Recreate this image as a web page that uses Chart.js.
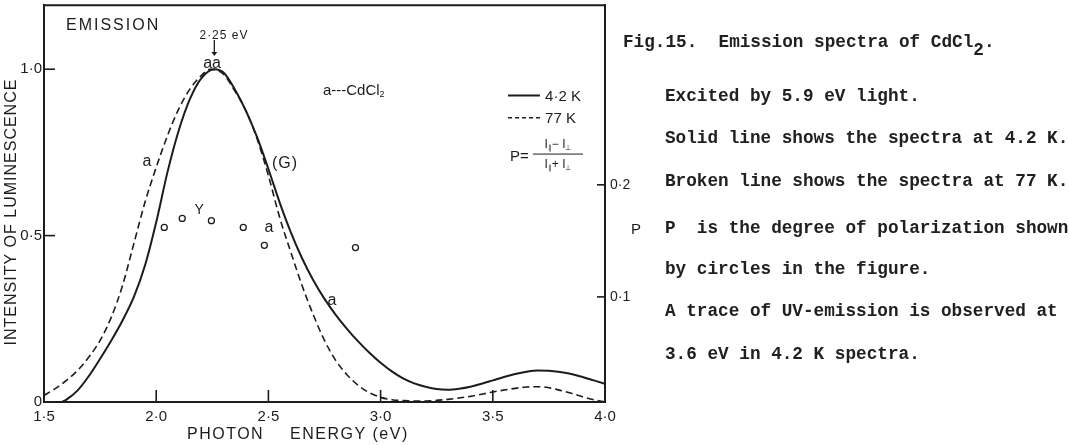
<!DOCTYPE html>
<html>
<head>
<meta charset="utf-8">
<script src="https://cdn.jsdelivr.net/npm/chart.js@4.4.1/dist/chart.umd.min.js"></script>
<style>
html,body{margin:0;padding:0;background:#fff;}
#wrap{position:relative;width:1069px;height:445px;overflow:hidden;background:#fff;}
#c{position:absolute;left:0;top:0;}
.cap{position:absolute;font-family:"Liberation Mono",monospace;font-weight:bold;font-size:17.7px;line-height:17.7px;color:#202020;white-space:pre;}
.cap sub{font-size:17.7px;vertical-align:baseline;position:relative;top:8px;}
</style>
</head>
<body>
<div id="wrap">
<canvas id="c" width="1069" height="445"></canvas>
<div class="cap" style="left:623px;top:34.4px">Fig.15.  Emission spectra of CdCl<sub>2</sub>.</div>
<div class="cap" style="left:665px;top:88.4px">Excited by 5.9 eV light.</div>
<div class="cap" style="left:665px;top:130.4px">Solid line shows the spectra at 4.2 K.</div>
<div class="cap" style="left:665px;top:173.4px">Broken line shows the spectra at 77 K.</div>
<div class="cap" style="left:665px;top:220.4px">P  is the degree of polarization shown</div>
<div class="cap" style="left:665px;top:261.4px">by circles in the figure.</div>
<div class="cap" style="left:665px;top:303.4px">A trace of UV-emission is observed at</div>
<div class="cap" style="left:665px;top:346.4px">3.6 eV in 4.2 K spectra.</div>
</div>
<script>
// ---------- data ----------
const energyTicks = [1.5, 2.0, 2.5, 3.0, 3.5, 4.0];
const energyTickLabels = ['1·5', '2·0', '2·5', '3·0', '3·5', '4·0'];
const intensityTicks = [0, 0.5, 1.0];
const intensityTickLabels = ['0', '0·5', '1·0'];
const pTicks = [0.1, 0.2];
const pTickLabels = ['0·1', '0·2'];

// 4.2 K (solid)
const energy42K = [1.58, 1.60, 1.65, 1.70, 1.75, 1.80, 1.85, 1.90, 1.95, 2.00, 2.05, 2.10, 2.15, 2.20, 2.26, 2.30, 2.35, 2.40, 2.45, 2.50, 2.55, 2.60, 2.65, 2.70, 2.75, 2.80, 2.85, 2.90, 2.95, 3.00, 3.05, 3.10, 3.15, 3.20, 3.25, 3.30, 3.35, 3.40, 3.45, 3.50, 3.55, 3.60, 3.65, 3.70, 3.75, 3.80, 3.85, 3.90, 3.95, 4.00];
const intensity42K = [0, 0.007, 0.035, 0.078, 0.13, 0.185, 0.245, 0.315, 0.41, 0.54, 0.69, 0.815, 0.91, 0.972, 1.0, 0.99, 0.94, 0.875, 0.795, 0.70, 0.60, 0.51, 0.432, 0.366, 0.31, 0.262, 0.22, 0.182, 0.148, 0.118, 0.092, 0.071, 0.056, 0.046, 0.039, 0.037, 0.040, 0.046, 0.055, 0.065, 0.075, 0.084, 0.091, 0.095, 0.094, 0.090, 0.084, 0.075, 0.065, 0.055];

// 77 K (broken)
const energy77K = [1.50, 1.55, 1.60, 1.65, 1.70, 1.75, 1.80, 1.85, 1.90, 1.95, 2.00, 2.05, 2.10, 2.15, 2.20, 2.24, 2.30, 2.35, 2.40, 2.45, 2.50, 2.55, 2.60, 2.65, 2.70, 2.75, 2.80, 2.85, 2.90, 2.95, 3.00, 3.05, 3.10, 3.20, 3.30, 3.40, 3.50, 3.60, 3.65, 3.70, 3.75, 3.80, 3.85, 3.90, 3.95, 4.00];
const intensity77K = [0.02, 0.04, 0.065, 0.095, 0.135, 0.185, 0.255, 0.35, 0.475, 0.60, 0.705, 0.80, 0.88, 0.94, 0.98, 1.0, 0.985, 0.935, 0.875, 0.79, 0.68, 0.555, 0.45, 0.35, 0.262, 0.185, 0.125, 0.082, 0.05, 0.028, 0.014, 0.007, 0.004, 0.003, 0.008, 0.017, 0.030, 0.041, 0.045, 0.046, 0.043, 0.035, 0.026, 0.016, 0.007, 0.0];

// degree of polarization (circles, right axis)
const energyPol = [2.036, 2.116, 2.246, 2.388, 2.482, 2.888];
const polarization = [0.162, 0.170, 0.168, 0.162, 0.146, 0.144];

// text annotations at data positions
const curveLabels = [
  {text: 'a', x: 1.959, y: 0.721, size: 16},
  {text: 'aa', x: 2.249, y: 1.016, size: 16},
  {text: '(G)', x: 2.574, y: 0.715, size: 16},
  {text: 'Y', x: 2.191, y: 0.575, size: 14},
  {text: 'a', x: 2.503, y: 0.525, size: 16},
  {text: 'a', x: 2.783, y: 0.304, size: 16}
];

// ---------- chart ----------
const INK = '#1c1c1c';
const FONT = '"Liberation Sans", Arial, sans-serif';

function zip(xs, ys) { return xs.map((x, i) => ({x: x, y: ys[i]})); }

function drawParts(ctx, parts, x, y, align, size) {
  const subSize = Math.round(size * 0.6);
  let w = 0;
  parts.forEach(p => {
    ctx.font = (p.sub ? subSize : size) + 'px ' + FONT;
    p.w = ctx.measureText(p.t).width;
    w += p.w;
  });
  let cx = align === 'center' ? x - w / 2 : x;
  ctx.textAlign = 'left';
  ctx.textBaseline = 'middle';
  parts.forEach(p => {
    ctx.font = (p.sub ? subSize : size) + 'px ' + FONT;
    ctx.fillText(p.t, cx, y + (p.sub ? size * 0.3 : 0));
    cx += p.w;
  });
}

const annotate = {
  id: 'annotate',
  afterDatasetsDraw(chart) {
    const ctx = chart.ctx;
    const a = chart.chartArea;
    const xs = chart.scales.x, ys = chart.scales.y, ps = chart.scales.p;
    const X = v => xs.getPixelForValue(v);
    const Y = v => ys.getPixelForValue(v);
    const P = v => ps.getPixelForValue(v);
    ctx.save();
    ctx.strokeStyle = INK;
    ctx.fillStyle = INK;
    ctx.lineCap = 'butt';
    const line = (x1, y1, x2, y2, w) => { ctx.lineWidth = w; ctx.beginPath(); ctx.moveTo(x1, y1); ctx.lineTo(x2, y2); ctx.stroke(); };
    // top frame
    line(a.left - 1, a.top, a.right + 1, a.top, 2);
    // inward tick marks
    energyTicks.slice(1, -1).forEach(v => line(X(v), a.bottom, X(v), a.bottom - 12, 1.6));
    intensityTicks.filter(v => v > 0).forEach(v => line(a.left, Y(v), a.left + 11, Y(v), 1.6));
    pTicks.forEach(v => line(a.right, P(v), a.right - 8, P(v), 1.6));

    // axis titles
    ctx.textBaseline = 'middle';
    ctx.textAlign = 'left';
    ctx.font = '16px ' + FONT;
    ctx.letterSpacing = '1.5px';
    ctx.fillText('PHOTON', 187, 435);
    ctx.fillText('ENERGY (eV)', 290, 435);
    ctx.save();
    ctx.translate(12, 212);
    ctx.rotate(-Math.PI / 2);
    ctx.textAlign = 'center';
    ctx.letterSpacing = '1px';
    ctx.fillText('INTENSITY OF LUMINESCENCE', 0, 0);
    ctx.restore();
    ctx.letterSpacing = '0px';
    ctx.font = '15px ' + FONT;
    ctx.textAlign = 'center';
    ctx.fillText('P', 636, 230);

    // EMISSION
    ctx.textAlign = 'left';
    ctx.font = '16px ' + FONT;
    ctx.letterSpacing = '2px';
    ctx.fillText('EMISSION', X(1.598), Y(1.130));
    ctx.letterSpacing = '0px';

    // peak marker
    ctx.font = '12px ' + FONT;
    ctx.letterSpacing = '1px';
    ctx.textAlign = 'center';
    ctx.fillText('2·25 eV', X(2.302), Y(1.100));
    ctx.letterSpacing = '0px';
    const ax = X(2.259);
    line(ax, Y(1.088), ax, Y(1.050), 1.3);
    ctx.beginPath();
    ctx.moveTo(ax - 3, Y(1.052));
    ctx.lineTo(ax + 3, Y(1.052));
    ctx.lineTo(ax, Y(1.040));
    ctx.closePath();
    ctx.fill();

    // curve labels
    curveLabels.forEach(l => {
      ctx.font = l.size + 'px ' + FONT;
      ctx.textAlign = 'center';
      ctx.letterSpacing = l.text === '(G)' ? '1px' : '0px';
      ctx.fillText(l.text, X(l.x), Y(l.y));
    });
    ctx.letterSpacing = '0px';

    // material label
    drawParts(ctx, [{t: 'a---CdCl'}, {t: '2', sub: true}], X(2.743), Y(0.936), 'left', 15);

    // legend
    const lx1 = X(3.568), lx2 = X(3.710);
    line(lx1, Y(0.921), lx2, Y(0.921), 2);
    ctx.setLineDash([4, 3]);
    line(lx1, Y(0.854), lx2, Y(0.854), 1.5);
    ctx.setLineDash([]);
    ctx.font = '15px ' + FONT;
    ctx.textAlign = 'left';
    ctx.fillText('4·2 K', X(3.733), Y(0.917));
    ctx.fillText('77 K', X(3.733), Y(0.851));

    // polarization formula
    ctx.font = '15px ' + FONT;
    ctx.fillText('P=', X(3.577), Y(0.736));
    line(X(3.679), Y(0.745), X(3.902), Y(0.745), 1);
    const mid = (X(3.679) + X(3.902)) / 2;
    drawParts(ctx, [{t: 'I'}, {t: '∥', sub: true}, {t: '− I'}, {t: '⊥', sub: true}], mid, Y(0.774), 'center', 12);
    drawParts(ctx, [{t: 'I'}, {t: '∥', sub: true}, {t: '+ I'}, {t: '⊥', sub: true}], mid, Y(0.714), 'center', 12);
    ctx.restore();
  }
};

function fixedAxis(size, horizontal) {
  return s => {
    if (horizontal) { s.height = size; } else { s.width = size; }
    s.paddingLeft = 0; s.paddingRight = 0; s.paddingTop = 0; s.paddingBottom = 0;
  };
}

new Chart(document.getElementById('c'), {
  type: 'line',
  data: {
    datasets: [
      {label: '4·2 K', data: zip(energy42K, intensity42K), yAxisID: 'y', borderColor: INK, borderWidth: 2, pointRadius: 0, fill: false, cubicInterpolationMode: 'monotone'},
      {label: '77 K', data: zip(energy77K, intensity77K), yAxisID: 'y', borderColor: INK, borderWidth: 1.6, borderDash: [7, 4], pointRadius: 0, fill: false, cubicInterpolationMode: 'monotone'},
      {label: 'P', type: 'scatter', data: zip(energyPol, polarization), yAxisID: 'p', showLine: false, pointRadius: 3, pointBorderWidth: 1.3, pointBorderColor: INK, pointBackgroundColor: '#fff'}
    ]
  },
  options: {
    responsive: false,
    devicePixelRatio: 1,
    animation: false,
    layout: {padding: {top: 2, left: 0, right: 0, bottom: 0}},
    plugins: {legend: {display: false}, tooltip: {enabled: false}, title: {display: false}},
    scales: {
      x: {
        type: 'linear', position: 'bottom', min: 1.5, max: 4.0,
        afterBuildTicks: s => { s.ticks = energyTicks.map(v => ({value: v})); },
        afterFit: fixedAxis(43, true),
        grid: {display: false, drawTicks: false},
        border: {display: true, color: INK, width: 2},
        ticks: {callback: (v, i) => energyTickLabels[i], color: INK, font: {family: FONT, size: 15}, padding: 6, maxRotation: 0, autoSkip: false}
      },
      y: {
        type: 'linear', position: 'left', min: 0, max: 1.192,
        afterBuildTicks: s => { s.ticks = intensityTicks.map(v => ({value: v})); },
        afterFit: fixedAxis(44, false),
        grid: {display: false, drawTicks: false},
        border: {display: true, color: INK, width: 2},
        ticks: {callback: (v, i) => intensityTickLabels[i], color: INK, font: {family: FONT, size: 15}, padding: 2, autoSkip: false}
      },
      p: {
        type: 'linear', position: 'right', min: 0.0062, max: 0.3602,
        afterBuildTicks: s => { s.ticks = pTicks.map(v => ({value: v})); },
        afterFit: fixedAxis(464, false),
        grid: {display: false, drawTicks: false},
        border: {display: true, color: INK, width: 2},
        ticks: {callback: (v, i) => pTickLabels[i], color: INK, font: {family: FONT, size: 14}, padding: 5, autoSkip: false}
      }
    }
  },
  plugins: [annotate]
});
</script>
</body>
</html>
